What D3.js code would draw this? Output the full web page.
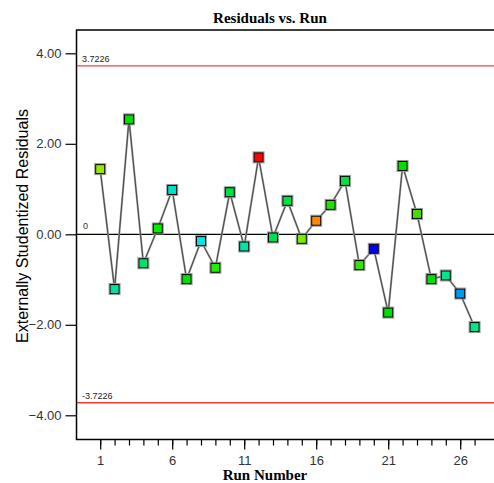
<!DOCTYPE html>
<html><head><meta charset="utf-8">
<script src="https://cdn.jsdelivr.net/npm/d3@7"></script>
<style>body{margin:0;background:#fff}svg{display:block}</style>
</head><body>
<svg id="chart" width="494" height="483"></svg>
<script>
const runs = d3.range(1, 28);
const residuals = [1.44, -1.21, 2.54, -0.64, 0.13, 0.98, -0.99, -0.15, -0.74, 0.93,
  -0.27, 1.70, -0.07, 0.74, -0.10, 0.30, 0.65, 1.18, -0.68, -0.32,
  -1.73, 1.51, 0.45, -0.99, -0.91, -1.31, -2.05];
const pointColors = ["#99e600", "#00e0a0", "#00dd00", "#00e070", "#00ee00", "#00e0c8", "#00e000", "#00e6e6", "#22ee00", "#00e040",
  "#00e6a8", "#ff0000", "#00e050", "#00e040", "#77ee00", "#ff8800", "#22e000", "#00e040", "#33e600", "#0000ee",
  "#00e000", "#00e000", "#44dd00", "#00e000", "#00e688", "#0099ee", "#00e688"];
const yTicks = [-4, -2, 0, 2, 4];
const xTicks = [1, 6, 11, 16, 21, 26];
const limit = 3.7226;
const title = "Residuals vs. Run";
const xTitle = "Run Number";
const yTitle = "Externally Studentized Residuals";

const svg = d3.select("#chart");
const L = 76.5, T = 30, B = 439.5;
const x = d3.scaleLinear().domain([-0.645, 28.5]).range([L, L + 29.145 * 14.4]);
const y = d3.scaleLinear().domain([-4.535, 4.515]).range([B, T]);
const R = x.range()[1];
const sans = "Arial, Liberation Sans, sans-serif";
const serif = "Liberation Serif, Times New Roman, serif";

svg.append("text").attr("x", 270).attr("y", 23).attr("text-anchor", "middle")
  .attr("font-family", serif).attr("font-weight", "bold").attr("font-size", 15).text(title);

svg.append("line").attr("x1", L).attr("x2", R).attr("y1", y(0)).attr("y2", y(0))
  .attr("stroke", "#000").attr("stroke-width", 1.2);

[limit, -limit].forEach(v => {
  svg.append("line").attr("x1", L).attr("x2", R).attr("y1", y(v)).attr("y2", y(v))
    .attr("stroke", "#ff3c3c").attr("stroke-width", 1.3);
  svg.append("text").attr("x", 82).attr("y", y(v) - 4).attr("font-family", sans)
    .attr("font-size", 9).attr("fill", "#222").text(v > 0 ? "3.7226" : "-3.7226");
});
svg.append("text").attr("x", 83).attr("y", y(0) - 5).attr("font-family", sans)
  .attr("font-size", 9).attr("fill", "#333").text("0");

svg.append("path").attr("d", `M${R},${T}H${L}V${B}H${R}`).attr("fill", "none")
  .attr("stroke", "#000").attr("stroke-width", 1.5);

const yAxis = d3.axisLeft(y).tickValues(yTicks).tickFormat(d3.format(".2f")).tickSize(11).tickPadding(4);
const gy = svg.append("g").attr("transform", `translate(${L},0)`).call(yAxis);
gy.select(".domain").remove();
gy.selectAll("line").attr("stroke", "#000").attr("stroke-width", 1.2);
gy.selectAll("text").attr("font-family", sans).attr("font-size", 13).attr("fill", "#333");

const gxm = svg.append("g").attr("transform", `translate(0,${B})`)
  .call(d3.axisBottom(x).tickValues(runs).tickSize(6).tickFormat(""));
gxm.select(".domain").remove();
gxm.selectAll("line").attr("stroke", "#000").attr("stroke-width", 1.2);
const gx = svg.append("g").attr("transform", `translate(0,${B})`)
  .call(d3.axisBottom(x).tickValues(xTicks).tickSize(10).tickPadding(6));
gx.select(".domain").remove();
gx.selectAll("line").attr("stroke", "#000").attr("stroke-width", 1.2);
gx.selectAll("text").attr("font-family", sans).attr("font-size", 13).attr("fill", "#333");

svg.append("text").attr("x", 265).attr("y", 480).attr("text-anchor", "middle")
  .attr("font-family", serif).attr("font-weight", "bold").attr("font-size", 15).text(xTitle);
svg.append("text").attr("transform", `translate(28,226) rotate(-90)`).attr("text-anchor", "middle")
  .attr("font-family", sans).attr("font-size", 16).text(yTitle);

const data = runs.map((r, i) => ({ r, v: residuals[i], c: pointColors[i] }));
const lineGen = d3.line().x(d => x(d.r)).y(d => y(d.v));
svg.append("path").datum(data).attr("d", lineGen)
  .attr("fill", "none").attr("stroke", "#9a9a9a").attr("stroke-width", 2);
svg.append("path").datum(data).attr("d", lineGen)
  .attr("fill", "none").attr("stroke", "#333").attr("stroke-width", 0.8);

const s = 9;
const g = svg.append("g");
g.selectAll("rect.halo").data(data).join("rect").attr("class", "halo")
  .attr("x", d => x(d.r) - s / 2 - 1).attr("y", d => y(d.v) - s / 2 - 1)
  .attr("width", s + 2).attr("height", s + 2).attr("fill", "none").attr("stroke", "#999").attr("stroke-width", 1);
g.selectAll("rect.pt").data(data).join("rect").attr("class", "pt")
  .attr("x", d => x(d.r) - s / 2).attr("y", d => y(d.v) - s / 2)
  .attr("width", s).attr("height", s).attr("fill", d => d.c).attr("stroke", "#000").attr("stroke-width", 1);
</script>
</body></html>
